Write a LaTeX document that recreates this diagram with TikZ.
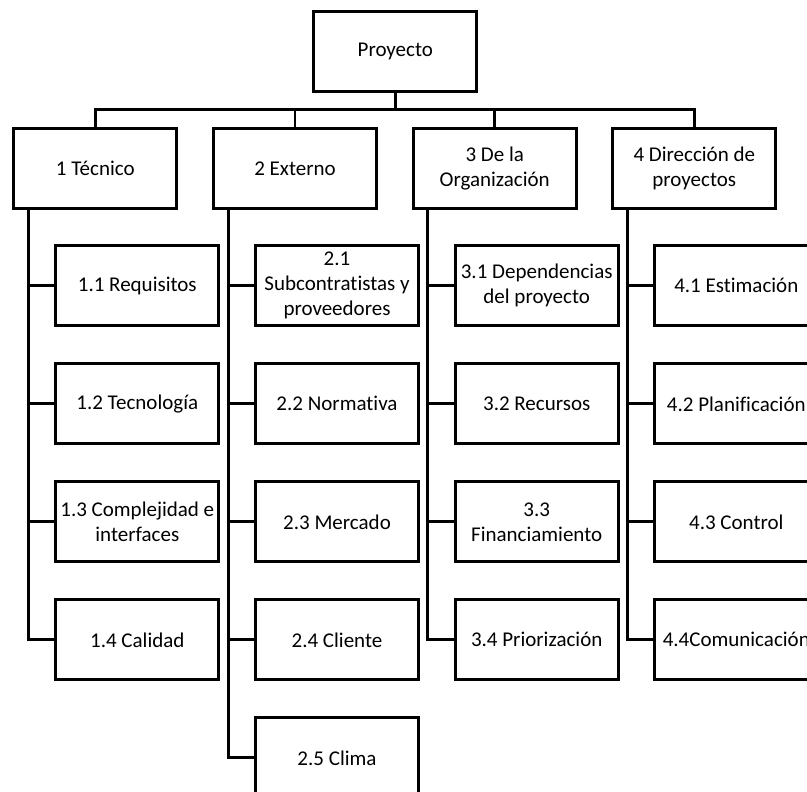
\documentclass[tikz,border=0pt]{standalone}
\usepackage{fontspec}
\setmainfont{Carlito}[Ligatures=CommonOff]
\begin{document}
\begin{tikzpicture}[x=1pt,y=-1pt,
  line width=2.8pt, line join=miter,
  box/.style={draw, rectangle, minimum width=163pt, minimum height=80pt,
    inner sep=0pt, align=center, font=\fontsize{21}{25}\selectfont},
  link/.style={draw, line width=2.8pt}]
\useasboundingbox (0,0) rectangle (807,792);
\fill[white] (0,0) rectangle (807,792);
\clip (0,0) rectangle (807,792);

% top of the tree
\node[box] (root) at (395.3,51.7) {Proyecto};
\coordinate (bar) at (395.3,109.3);

% first level
\node[box] (l1) at (95.3,168.5)  {1 Técnico};
\node[box] (l2) at (295.0,168.5) {2 Externo};
\node[box] (l3) at (494.7,168.5) {3 De la\\Organización};
\node[box] (l4) at (694.3,168.5) {4 Dirección de\\proyectos};

% second level, column 1
\node[box] (c11) at (137.3,285.8) {1.1 Requisitos};
\node[box] (c12) at (137.3,403.8) {1.2 Tecnología};
\node[box] (c13) at (137.3,521.8) {1.3 Complejidad e\\interfaces};
\node[box] (c14) at (137.3,639.8) {1.4 Calidad};

% column 2
\node[box] (c21) at (337.0,285.8) {2.1\\Subcontratistas y\\proveedores};
\node[box] (c22) at (337.0,403.8) {2.2 Normativa};
\node[box] (c23) at (337.0,521.8) {2.3 Mercado};
\node[box] (c24) at (337.0,639.8) {2.4 Cliente};
\node[box] (c25) at (337.0,757.8) {2.5 Clima};

% column 3
\node[box] (c31) at (536.7,285.8) {3.1 Dependencias\\del proyecto};
\node[box] (c32) at (536.7,403.8) {3.2 Recursos};
\node[box] (c33) at (536.7,521.8) {3.3\\Financiamiento};
\node[box] (c34) at (536.7,639.8) {3.4 Priorización};

% column 4
\node[box] (c41) at (736.3,285.8) {4.1 Estimación};
\node[box] (c42) at (736.3,403.8) {4.2 Planificación};
\node[box] (c43) at (736.3,521.8) {4.3 Control};
\node[box] (c44) at (736.3,639.8) {4.4Comunicación};

% root to first level
\draw[link] (root.south) -- (bar);
\draw[link] (l1.north) -- (l1.north |- bar) -- (l4.north |- bar) -- (l4.north);
\draw[link] (l2.north) -- (l2.north |- bar);
\draw[link] (l3.north) -- (l3.north |- bar);

% first level to second level
\foreach \c in {c11,c12,c13,c14}
  \draw[link] ([xshift=16pt]l1.south west) |- (\c.west);
\foreach \c in {c21,c22,c23,c24,c25}
  \draw[link] ([xshift=16pt]l2.south west) |- (\c.west);
\foreach \c in {c31,c32,c33,c34}
  \draw[link] ([xshift=16pt]l3.south west) |- (\c.west);
\foreach \c in {c41,c42,c43,c44}
  \draw[link] ([xshift=16pt]l4.south west) |- (\c.west);
\end{tikzpicture}
\end{document}
